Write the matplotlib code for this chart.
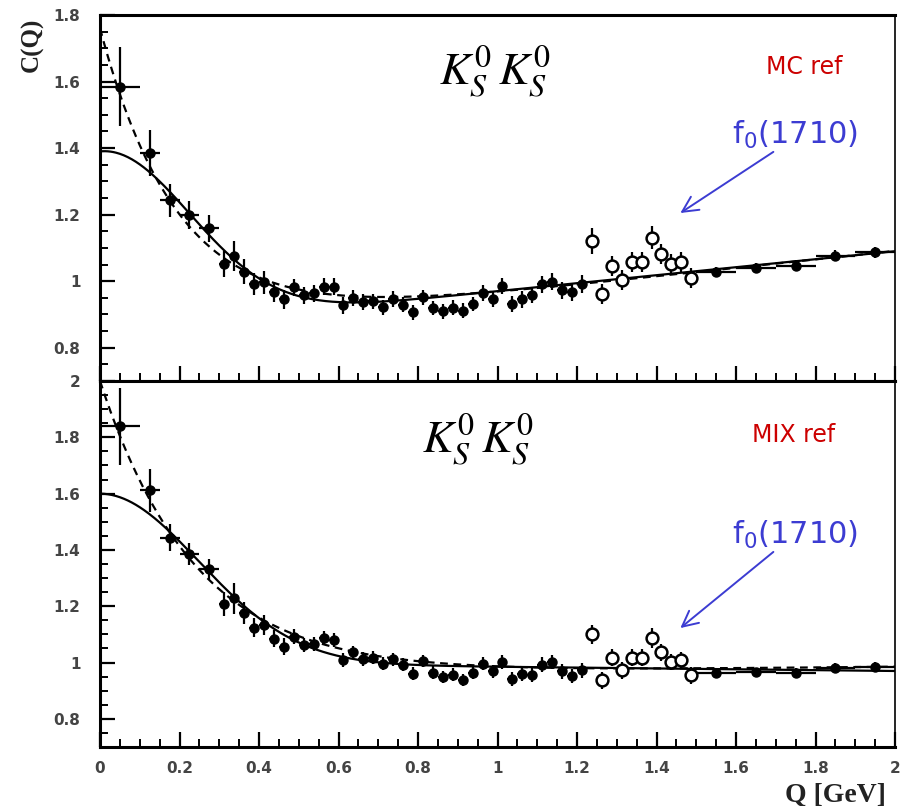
import numpy as np
import matplotlib
matplotlib.use("Agg")
import matplotlib.pyplot as plt
from matplotlib.ticker import MultipleLocator, FuncFormatter

# ---------------- data ----------------
# bin centres / half widths
q_low = [0.05, 0.125, 0.175, 0.225, 0.275]
q_low_err = [0.05, 0.025, 0.025, 0.025, 0.025]
q_mid = [round(0.3125 + 0.025 * i, 4) for i in range(37)]
q_mid_err = 0.0125
q_open = [round(1.2375 + 0.025 * i, 4) for i in range(11)]
q_open_err = 0.0125
q_high = [1.55, 1.65, 1.75, 1.85, 1.95]
q_high_err = 0.05

# MC reference (top)
mc_low = [1.585, 1.385, 1.243, 1.200, 1.159]
mc_low_yerr = [0.12, 0.07, 0.05, 0.042, 0.04]
mc_mid = [1.052, 1.077, 1.029, 0.992, 0.997, 0.967, 0.945, 0.982, 0.957, 0.963,
          0.984, 0.984, 0.927, 0.950, 0.938, 0.939, 0.921, 0.946, 0.929, 0.906,
          0.951, 0.919, 0.909, 0.920, 0.911, 0.931, 0.965, 0.947, 0.986, 0.931,
          0.945, 0.959, 0.991, 0.999, 0.973, 0.967, 0.992]
mc_mid_yerr = [0.04, 0.045, 0.038, 0.033, 0.035, 0.03, 0.03, 0.026, 0.025, 0.025,
               0.025, 0.025, 0.025, 0.024, 0.024, 0.023, 0.023, 0.023, 0.022, 0.022,
               0.022, 0.022, 0.022, 0.022, 0.022, 0.022, 0.024, 0.024, 0.025, 0.025,
               0.025, 0.025, 0.026, 0.026, 0.026, 0.026, 0.027]
mc_open = [1.121, 0.962, 1.045, 1.004, 1.057, 1.057, 1.131, 1.082, 1.051, 1.057, 1.011]
mc_open_yerr = [0.04, 0.03, 0.03, 0.03, 0.03, 0.03, 0.035, 0.03, 0.03, 0.03, 0.03]
mc_high = [1.027, 1.040, 1.047, 1.077, 1.087]
mc_high_yerr = [0.015, 0.015, 0.016, 0.017, 0.017]

# MIX reference (bottom)
mix_low = [1.839, 1.612, 1.444, 1.385, 1.331]
mix_low_yerr = [0.137, 0.077, 0.048, 0.04, 0.035]
mix_mid = [1.208, 1.229, 1.176, 1.124, 1.134, 1.084, 1.056, 1.092, 1.062, 1.065,
           1.086, 1.080, 1.009, 1.036, 1.012, 1.017, 0.996, 1.012, 0.993, 0.961,
           1.005, 0.964, 0.949, 0.957, 0.937, 0.964, 0.996, 0.969, 1.002, 0.940,
           0.961, 0.957, 0.993, 1.002, 0.969, 0.952, 0.973]
mix_mid_yerr = [0.042, 0.055, 0.038, 0.033, 0.035, 0.03, 0.03, 0.026, 0.025, 0.025,
                0.025, 0.025, 0.025, 0.024, 0.024, 0.023, 0.023, 0.023, 0.022, 0.022,
                0.022, 0.022, 0.022, 0.022, 0.022, 0.022, 0.024, 0.024, 0.025, 0.025,
                0.025, 0.025, 0.026, 0.026, 0.026, 0.026, 0.027]
mix_open = [1.100, 0.937, 1.017, 0.973, 1.017, 1.017, 1.088, 1.036, 1.002, 1.009, 0.955]
mix_open_yerr = [0.035, 0.03, 0.03, 0.03, 0.03, 0.03, 0.035, 0.03, 0.03, 0.03, 0.03]
mix_high = [0.964, 0.967, 0.964, 0.981, 0.985]
mix_high_yerr = [0.014, 0.014, 0.015, 0.016, 0.016]

# fit parameters: baseline (a + b Q) + amplitude * shape(R Q)
mc_gauss = dict(a=0.85, b=0.12, amp=0.54, R=3.15)
mc_expo = dict(a=0.835, b=0.128, amp=0.925, R=5.0)
mix_gauss = dict(a=1.0, b=-0.015, amp=0.60, R=2.85)
mix_expo = dict(a=0.955, b=0.015, amp=1.045, R=4.15)


def gauss_fit(q, p):
    return p["a"] + p["b"] * q + p["amp"] * np.exp(-(p["R"] * q) ** 2)


def expo_fit(q, p):
    return p["a"] + p["b"] * q + p["amp"] * np.exp(-p["R"] * q)


# ---------------- figure ----------------
W, H = 905, 806
fig = plt.figure(figsize=(W / 100, H / 100), dpi=100)
left, width = 100 / W, 795 / W
ax_top = fig.add_axes([left, 1 - 381 / H, width, 366 / H])
ax_bot = fig.add_axes([left, 1 - 747 / H, width, 366 / H])

q_curve = np.linspace(0, 2, 600)
label_font = dict(family="DejaVu Sans", weight="bold", size=11, color="#444444")


def draw_panel(ax, low, low_yerr, mid, mid_yerr, opn, opn_yerr, high, high_yerr,
               pg, pe, ylim, ref_text, kpos, refpos, fpos, arr_tail, arr_head):
    ax.plot(q_curve, gauss_fit(q_curve, pg), color="black", lw=1.6, zorder=2)
    ax.plot(q_curve, expo_fit(q_curve, pe), color="black", lw=1.6,
            linestyle=(0, (3.5, 2.5)), zorder=2)
    ekw = dict(fmt="o", color="black", ms=6.5, elinewidth=1.6, capsize=0, zorder=4)
    ax.errorbar(q_low, low, xerr=q_low_err, yerr=low_yerr, **ekw)
    ax.errorbar(q_mid, mid, xerr=q_mid_err, yerr=mid_yerr, **ekw)
    ax.errorbar(q_high, high, xerr=q_high_err, yerr=high_yerr, **ekw)
    ax.errorbar(q_open, opn, xerr=q_open_err, yerr=opn_yerr, fmt="o", color="black",
                mfc="white", mec="black", ms=8.5, mew=1.8, elinewidth=1.6,
                capsize=0, zorder=5)
    ax.set_xlim(0, 2)
    ax.set_ylim(*ylim)
    ax.xaxis.set_major_locator(MultipleLocator(0.2))
    ax.xaxis.set_minor_locator(MultipleLocator(0.05))
    ax.yaxis.set_major_locator(MultipleLocator(0.2))
    ax.yaxis.set_minor_locator(MultipleLocator(0.05))
    ax.tick_params(which="both", direction="in", top=False, right=False,
                   color="black")
    ax.tick_params(which="major", length=11, width=1.6)
    ax.tick_params(which="minor", length=5.5, width=1.4)
    ax.tick_params(axis="y", which="major", pad=14)
    ax.tick_params(axis="x", which="major", pad=10)
    fmt = FuncFormatter(lambda v, pos: "%g" % round(v, 3))
    ax.xaxis.set_major_formatter(fmt)
    ax.yaxis.set_major_formatter(fmt)
    for lab in ax.get_yticklabels() + ax.get_xticklabels():
        lab.set_fontfamily(label_font["family"])
        lab.set_fontweight(label_font["weight"])
        lab.set_fontsize(label_font["size"])
        lab.set_color(label_font["color"])
    for side in ["left", "top", "bottom"]:
        ax.spines[side].set_linewidth(2.2)
    ax.spines["right"].set_linewidth(1.2)

    ax.text(kpos[0], kpos[1], r"$K^0_S\,K^0_S$", transform=ax.transAxes,
            fontsize=33, ha="center", va="center", math_fontfamily="stix")
    ax.text(refpos[0], refpos[1], ref_text, transform=ax.transAxes,
            fontsize=17, color="#cc0000", ha="center", va="center",
            family="DejaVu Sans")
    ax.text(fpos[0], fpos[1], r"f$_0$(1710)", transform=ax.transAxes,
            fontsize=22, color="#3c3cd2", ha="center", va="center",
            family="DejaVu Sans", math_fontfamily="dejavusans")
    ax.annotate("", xy=arr_head, xytext=arr_tail, xycoords="axes fraction",
                textcoords="axes fraction",
                arrowprops=dict(arrowstyle="->", color="#3c3cd2", lw=1.4,
                                mutation_scale=28, shrinkA=0, shrinkB=0))


draw_panel(ax_top, mc_low, mc_low_yerr, mc_mid, mc_mid_yerr, mc_open, mc_open_yerr,
           mc_high, mc_high_yerr, mc_gauss, mc_expo, (0.7, 1.8), "MC ref",
           (0.497, 0.844), (0.886, 0.858), (0.874, 0.672),
           (0.847, 0.626), (0.730, 0.459))
draw_panel(ax_bot, mix_low, mix_low_yerr, mix_mid, mix_mid_yerr, mix_open,
           mix_open_yerr, mix_high, mix_high_yerr, mix_gauss, mix_expo, (0.7, 2.0),
           "MIX ref", (0.475, 0.839), (0.872, 0.852), (0.874, 0.579),
           (0.847, 0.533), (0.730, 0.325))

ax_top.tick_params(axis="x", labelbottom=False)

fig.text(32 / W, 1 - 45 / H, "C(Q)", rotation=90, ha="center", va="center",
         family="Liberation Serif", weight="bold", size=18, color="#222222")
fig.text(835 / W, 1 - 795 / H, "Q [GeV]", ha="center", va="center",
         family="Liberation Serif", weight="bold", size=20, color="#222222")

fig.savefig("out.png", dpi=100, facecolor="white")
